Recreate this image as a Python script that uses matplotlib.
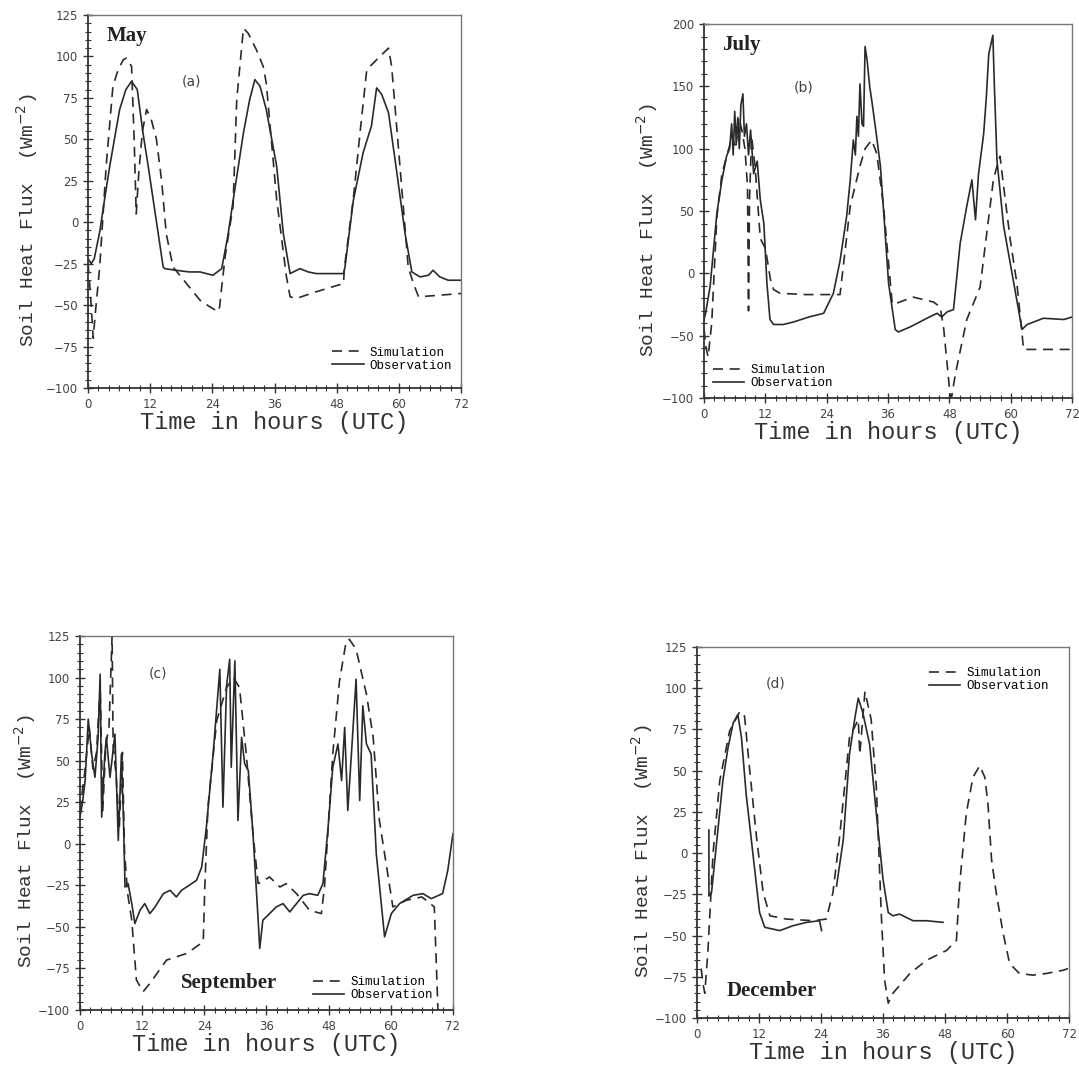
import matplotlib
matplotlib.use("Agg")
import matplotlib.pyplot as plt
from matplotlib.ticker import MultipleLocator

# ---------------- DATA ----------------
# Panel (a) May
may_obs_t = [0, 0.6, 1.2, 2.3, 3.2, 4.2, 5.2, 6.1, 7.3, 8.4, 9.5, 10.6, 11.6, 12.6, 13.6, 14.5, 14.8, 17, 19.5, 21.6, 24.1, 25.8,
             27, 28, 30, 31.2, 32.2, 33.2, 34.4, 36.4, 37.7, 39, 40.9, 42.5, 44.1, 46.5, 49.3, 49.6,
             51.2, 53.1, 54.7, 55.7, 56.7, 58, 59.6, 61.2, 62.5, 64.1, 65.7, 66.6, 67.9, 69.5, 72]
may_obs_v = [-22, -25, -22, -5, 14, 34, 52, 68, 80, 85, 80, 54, 34, 13, -8, -27, -28, -29, -30, -30, -32, -28,
             -8, 13, 54, 74, 86, 82, 68, 34, -7, -31, -28, -30, -31, -31, -31, -27,
             13, 42, 58, 81, 77, 66, 30, -7, -30, -33, -32, -29, -33, -35, -35]
may_sim_t = [0, 0.5, 1.0, 1.4, 2.25, 3.5, 4.8, 5.8, 6.8, 7.4, 8.4, 8.9, 9.3, 9.8, 10.5, 11.3, 12.2, 13.2, 14.2, 15.1, 16.4, 19, 21.6, 23.5, 25.1, 25.4,
             25.8, 26.5, 28, 28.7, 30, 30.9, 32.5, 33.8, 34.4, 36.4, 38.3, 39, 40.2, 44, 49.3,
             49.5, 51.2, 52.5, 53.8, 55.7, 57, 58, 58.6, 60.2, 61.8, 62.8, 63.8, 68, 72]
may_sim_v = [-25, -45, -70, -55, -27, 34, 82, 92, 98, 99, 94, 50, 5, 30, 55, 68, 62, 50, 25, -7, -27, -37, -47, -51, -54, -51,
             -39, -20, 10, 74, 117, 114, 104, 94, 84, 14, -33, -45, -46, -42, -37,
             -27, 14, 54, 92, 98, 102, 105, 94, 34, -27, -37, -45, -44, -43]

# Panel (b) July
jul_obs_t = [0, 0.3, 1.2, 2.5, 3.5, 4.4, 5.0, 5.4, 5.7, 6.0, 6.3, 6.6, 6.9, 7.2, 7.6, 7.9, 8.3, 8.7, 9.1, 9.7, 10.4, 11, 11.7, 12.3, 12.9, 13.6,
             15.5, 17.5, 20.5, 23.4, 25.3, 26.6, 27.9, 28.6, 29.2, 29.6, 29.9, 30.2, 30.5, 30.9, 31.2, 31.5, 31.9, 32.4, 32.8, 33.5, 34.5, 35.3, 36.1,
             37.4, 38, 40.3, 43.6, 45.6, 46.5, 47.5, 48.8, 50.1, 51.4, 52.4, 53.1, 53.7, 54.7, 55.2, 55.7, 56.5, 56.8, 57.3, 58.6, 60.6,
             62.2, 63.2, 66.4, 70.4, 72]
jul_obs_v = [-37, -32, -10, 48, 75, 94, 100, 120, 95, 130, 105, 125, 100, 135, 144, 110, 120, 95, 115, 80, 90, 59, 40, -8, -37, -41,
             -41, -39, -35, -32, -16, 10, 46, 75, 107, 95, 126, 110, 152, 120, 118, 182, 171, 150, 139, 118, 86, 40, -8,
             -45, -47, -43, -36, -32, -35, -31, -29, 24, 54, 75, 43, 80, 112, 140, 176, 191, 150, 91, 38, -8,
             -45, -41, -36, -37, -35]
jul_sim_t = [0, 0.4, 0.8, 1.5, 2.5, 3.5, 4.5, 5.5, 6.2, 6.8, 7.4, 8.0, 8.5, 8.7, 8.9, 9.3, 10, 11, 12, 13, 13.6, 14.9,
             20, 26.6, 28.6, 30.5, 31.5, 32.8, 33.8, 35.1, 36.8, 37, 40.9, 44.9, 46.2, 46.9, 48.1, 48.4, 49.2, 51.4, 54,
             55.3, 56.6, 57.3, 57.9, 58.6, 59.9, 61.2, 62.2, 62.5, 72]
jul_sim_v = [-45, -60, -67, -40, 45, 80, 95, 110, 100, 125, 115, 100, 70, -30, 60, 110, 85, 28, 20, -5, -13, -16,
             -17, -17, 54, 86, 100, 107, 96, 54, -24, -25, -19, -23, -27, -45, -96, -100, -80, -37, -11,
             32, 75, 86, 94, 70, 27, -8, -48, -61, -61]

# Panel (c) September
sep_obs_t = [0, 0.5, 1, 1.6, 2.25, 2.9, 3.5, 3.9, 4.2, 4.8, 5.1, 5.8, 6.75, 7.4, 8, 8.4, 8.7, 9.3, 10, 10.6, 11.6, 12.5, 13.5,
             14.5, 16.1, 17.4, 18.6, 19.6, 20.6, 22.5, 23.5, 24.4, 25.7, 27, 27.6, 28.3, 28.9, 29.2, 29.9, 30.5, 31.2, 31.8, 32.5,
             33.4, 34.4, 34.7, 35.3, 36.6, 37.9, 39.2, 40.5, 41.8, 43.1, 44.3, 45.9, 46.9, 47.9, 48.8, 49.8, 50.5, 51.1, 51.7,
             52.4, 53.3, 54, 54.6, 55.3, 56.2, 57.2, 58.8, 60.1, 61.7, 64.3, 66.2, 67.8, 70, 71, 72]
sep_obs_v = [16, 25, 38, 75, 54, 40, 64, 102, 16, 54, 64, 40, 66, 2, 54, 14, -26, -24, -36, -48, -40, -36, -42,
             -38, -30, -28, -32, -28, -26, -22, -14, 10, 54, 105, 22, 95, 111, 46, 110, 14, 64, 48, 44,
             6, -46, -63, -46, -42, -38, -36, -41, -36, -31, -30, -31, -24, 10, 46, 60, 38, 70, 20,
             54, 99, 26, 83, 60, 54, -6, -56, -42, -36, -31, -30, -33, -30, -16, 6]
sep_sim_t = [0, 1, 1.8, 2.5, 3.2, 3.9, 4.4, 5, 5.6, 6.2, 6.4, 7, 7.6, 8.2, 8.6, 9.2, 10, 10.9, 12.2, 13.5, 16.7, 20.6, 23.8,
             24.1, 24.7, 26.4, 28.3, 29.6, 30.8, 32.1, 33.4, 34.4, 36.6, 38.6, 39.8, 41.8, 44.3, 46.6, 47.2, 48.8, 50.1, 51.4,
             52, 53.3, 55.3, 56.6, 57.8, 59.8, 60.4, 63, 66, 68.4, 69.1]
sep_sim_v = [20, 45, 70, 45, 55, 95, 20, 60, 70, 125, 60, 40, 10, 55, -5, -30, -46, -82, -89, -84, -70, -66, -59,
             -26, 22, 74, 94, 100, 94, 54, 6, -24, -20, -26, -24, -30, -40, -42, -26, 54, 98, 122,
             123, 117, 90, 64, 14, -26, -38, -34, -32, -38, -100]

# Panel (d) December
dec_obs_t = [2.3, 2.3, 2.8, 4.1, 5, 6, 7, 7.9, 8.6, 9.5, 10.8, 12.1, 13.1, 16, 18.6, 21.2, 23.7, 24.1]
dec_obs_v = [14, -26, -24, 16, 44, 64, 79, 84, 70, 36, 0, -36, -45, -47, -44, -42, -41, -47]
dec_obs2_t = [27, 28.3, 29.5, 30.5, 31.2, 32.1, 33.4, 34.7, 36, 37, 37.9, 39.2, 41.8, 44.4, 47.6]
dec_obs2_v = [-20, 8, 60, 81, 94, 85, 66, 24, -16, -36, -38, -37, -41, -41, -42]
dec_sim_t = [0.8, 1.2, 1.5, 2.1, 3.1, 4.4, 6.3, 8.3, 9.2, 10.2, 11.5, 12.8, 14.1, 17.3, 22.5, 25, 26.3, 27.6, 29.5, 31.2,
             31.5, 32.5, 33.7, 34.7, 35.7, 36.3, 37, 37.9, 41.2, 44.4, 48.3, 50.2, 50.8, 52.1, 53.4, 54.7, 55.7, 56.3, 57,
             57.9, 59.2, 60.5, 62.4, 65, 67.6, 70.9, 71.8]
dec_sim_v = [-70, -80, -85, -60, 0, 44, 74, 86, 83, 50, 10, -24, -38, -40, -41, -40, -24, 10, 70, 81,
             60, 98, 81, 40, -40, -77, -91, -85, -73, -65, -59, -53, -20, 24, 46, 53, 46, 30, -4,
             -24, -48, -67, -73, -74, -73, -71, -70]

xticks = [0, 12, 24, 36, 48, 60, 72]

# ---------------- FIGURE ----------------
fig = plt.figure(figsize=(10.79, 10.70), dpi=100)
LC = "#2a2a2a"
mono = ["Liberation Mono", "DejaVu Sans Mono"]
serif = ["Liberation Serif", "DejaVu Serif"]

def setup(ax, ylim, ymaj, ymin, ylab_x):
    ax.set_xlim(0, 72)
    ax.set_ylim(*ylim)
    ax.set_xticks(xticks)
    ax.xaxis.set_minor_locator(MultipleLocator(2))
    ax.yaxis.set_major_locator(MultipleLocator(ymaj))
    ax.yaxis.set_minor_locator(MultipleLocator(ymin))
    ax.tick_params(which="both", direction="inout", labelsize=8.5, labelcolor="#444444", color="#333333")
    ax.tick_params(which="major", length=7, width=1)
    ax.tick_params(which="minor", length=4, width=0.8)
    for s in ["top", "right"]:
        ax.spines[s].set_color("#777777")
        ax.spines[s].set_linewidth(1.0)
    for s in ["left", "bottom"]:
        ax.spines[s].set_color("#333333")
        ax.spines[s].set_linewidth(1.3)
    ax.set_xlabel("Time in hours (UTC)", fontsize=17, family=mono, color="#333333", labelpad=0)
    ax.set_ylabel("Soil Heat Flux  (Wm$^{-2}$)", fontsize=14, family=mono, color="#333333", labelpad=2)
    ax.yaxis.set_label_coords(ylab_x, 0.45)

def draw(ax, sim, obs_list, legend_loc, bbox=None):
    ls, = ax.plot(sim[0], sim[1], color=LC, lw=1.2, dashes=(6, 4), label="Simulation")
    lo = None
    for t, v in obs_list:
        lo, = ax.plot(t, v, color=LC, lw=1.2, label="Observation")
    kw = dict(loc=legend_loc, frameon=False, prop={"family": mono, "size": 9},
              handlelength=2.5, borderaxespad=0.3, labelspacing=0.1, handletextpad=0.5)
    if bbox is not None:
        kw["bbox_to_anchor"] = bbox
    ax.legend([ls, lo], ["Simulation", "Observation"], **kw)

# (a) May
axa = fig.add_axes([0.0816, 0.6374, 0.3457, 0.3486])
setup(axa, (-100, 125), 25, 5, -0.13)
draw(axa, (may_sim_t, may_sim_v), [(may_obs_t, may_obs_v)], "lower right", bbox=(1.0, 0.02))
axa.text(0.05, 0.93, "May", transform=axa.transAxes, fontsize=15, fontweight="bold", family=serif, color="#222222")
axa.text(0.25, 0.81, "(a)", transform=axa.transAxes, fontsize=10, color="#444444")

# (b) July
axb = fig.add_axes([0.6525, 0.628, 0.3411, 0.3495])
setup(axb, (-100, 200), 50, 10, -0.12)
draw(axb, (jul_sim_t, jul_sim_v), [(jul_obs_t, jul_obs_v)], "lower left")
axb.text(0.05, 0.93, "July", transform=axb.transAxes, fontsize=15, fontweight="bold", family=serif, color="#222222")
axb.text(0.245, 0.82, "(b)", transform=axb.transAxes, fontsize=10, color="#444444")

# (c) September
axc = fig.add_axes([0.0741, 0.0561, 0.3457, 0.3495])
setup(axc, (-100, 125), 25, 5, -0.113)
draw(axc, (sep_sim_t, sep_sim_v), [(sep_obs_t, sep_obs_v)], "lower right", bbox=(0.97, 0.0))
axc.text(0.27, 0.06, "September", transform=axc.transAxes, fontsize=15, fontweight="bold", family=serif, color="#222222")
axc.text(0.185, 0.89, "(c)", transform=axc.transAxes, fontsize=10, color="#444444")

# (d) December
axd = fig.add_axes([0.646, 0.0486, 0.3448, 0.3467])
setup(axd, (-100, 125), 25, 5, -0.113)
draw(axd, (dec_sim_t, dec_sim_v), [(dec_obs_t, dec_obs_v), (dec_obs2_t, dec_obs2_v)], "upper right", bbox=(0.97, 0.97))
axd.text(0.08, 0.06, "December", transform=axd.transAxes, fontsize=15, fontweight="bold", family=serif, color="#222222")
axd.text(0.185, 0.89, "(d)", transform=axd.transAxes, fontsize=10, color="#444444")

fig.savefig("out.png", dpi=100, facecolor="white")
